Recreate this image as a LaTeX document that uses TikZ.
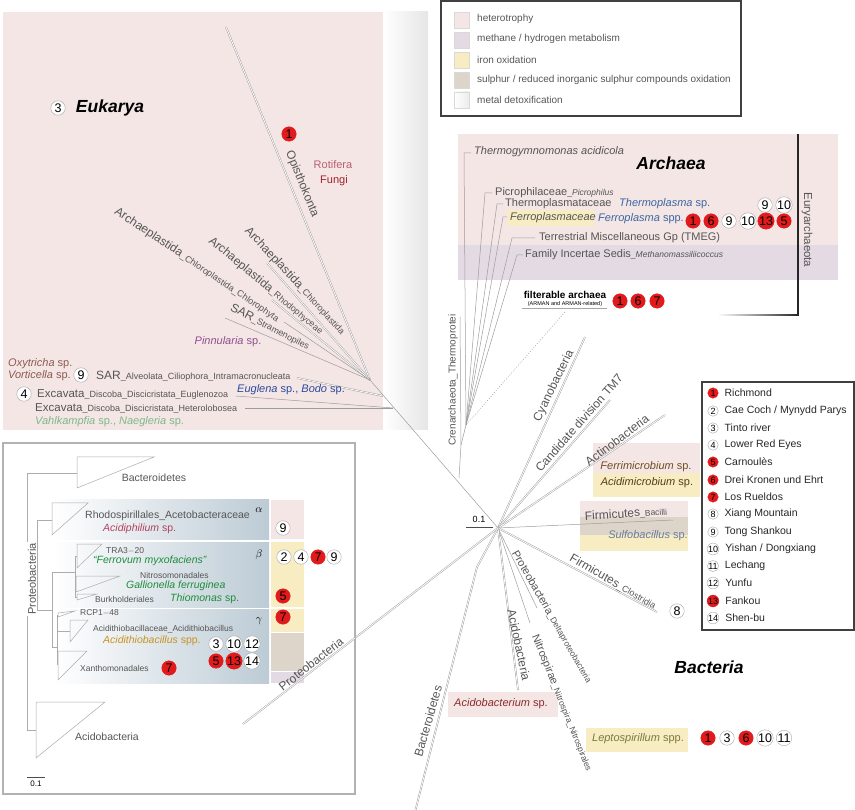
\documentclass[tikz,border=0pt]{standalone}
\usepackage{fontspec}
\setmainfont{Liberation Sans}
\usepackage{xcolor}
\usetikzlibrary{calc}

\definecolor{hetero}{HTML}{F5E6E6}
\definecolor{methane}{HTML}{E4DAE4}
\definecolor{iron}{HTML}{F7ECC2}
\definecolor{sulphur}{HTML}{DDD5CA}
\definecolor{sitered}{HTML}{E31A1C}
\definecolor{branch}{HTML}{9C9C9C}
\definecolor{labgray}{HTML}{555555}
\definecolor{taxblue}{HTML}{3A66A0}
\definecolor{darkblue}{HTML}{2A4A9C}
\definecolor{taxbrown}{HTML}{8C5A4E}
\definecolor{taxgreen}{HTML}{1E8C3C}
\definecolor{lightgreen}{HTML}{7DB88A}
\definecolor{taxpurple}{HTML}{8E4E8E}
\definecolor{rotred}{HTML}{B8606E}
\definecolor{fungred}{HTML}{A0222A}
\definecolor{taxgold}{HTML}{C8921E}
\definecolor{ochre}{HTML}{6E4E1E}
\definecolor{olive}{HTML}{7A7A3E}
\definecolor{slate}{HTML}{6A7C9E}
\definecolor{boxblue}{HTML}{BCCBD5}
\definecolor{pinkred}{HTML}{B2405C}
\definecolor{acidored}{HTML}{8C2A2A}

\newcommand{\fs}[1]{\fontsize{#1}{#1}\selectfont}
\newcommand{\subt}[1]{{\fs{9}\_#1}}
\newcommand{\subs}[1]{{\fs{8.5}\_#1}}

\begin{document}
\begin{tikzpicture}[x=1pt, y=-1pt, >=latex,
    br/.style={draw=branch, line width=0.5pt},
    dbr/.style={draw=branch, double=white, double distance=0.8pt, line width=0.45pt},
    lab/.style={inner sep=0pt, text=labgray, font=\fs{12}},
    site/.style={circle, draw=gray!70, fill=white, inner sep=0pt, minimum size=14.5pt, font=\fs{12.5}},
    rsite/.style={site, draw=sitered, fill=sitered},
    lsite/.style={site, minimum size=10.5pt, font=\fs{9}},
    rlsite/.style={lsite, draw=sitered, fill=sitered},
    clade/.style={draw=gray!65, line width=0.5pt},
    swatch/.style={draw=gray!30, line width=0.4pt}]
    \useasboundingbox (0,0) rectangle (855,810);

    % Backgrounds
    \fill[hetero] (3,12) rectangle (383,430);
    \shade[left color=white, right color=gray!20] (383,12) rectangle (428,430);
    \fill[hetero] (458,134) rectangle (838,245);
    \fill[methane] (458,245) rectangle (838,280);
    \fill[iron] (507,210) rectangle (594,226);
    \fill[hetero] (593,443) rectangle (700,473);
    \fill[iron] (593,473) rectangle (700,497);
    \fill[hetero] (580,501) rectangle (688,517);
    \fill[sulphur] (580,517) rectangle (688,535);
    \fill[iron] (580,535) rectangle (688,551);
    \fill[hetero] (448,692) rectangle (558,717);
    \fill[iron] (586,728) rectangle (688,752);

    % Legend (metabolism)
    \draw[black!75, line width=1.2pt] (441,1) rectangle (741,116);
    \filldraw[swatch, fill=hetero] (454,12) rectangle (469,28);
    \filldraw[swatch, fill=methane] (454,32) rectangle (469,48);
    \filldraw[swatch, fill=iron] (454,52) rectangle (469,68);
    \filldraw[swatch, fill=sulphur] (454,72) rectangle (469,88);
    \shade[left color=white, right color=gray!15] (454,92) rectangle (469,108);
    \draw[swatch] (454,92) rectangle (469,108);
    \node[lab, anchor=west, font=\fs{10}] (l1) at (477,19) {heterotrophy};
    \node[lab, anchor=west, font=\fs{10}] (l2) at (477,39) {methane / hydrogen metabolism};
    \node[lab, anchor=west, font=\fs{10}] (l3) at (477,60) {iron oxidation};
    \node[lab, anchor=west, font=\fs{10}] (l4) at (477,80) {sulphur / reduced inorganic sulphur compounds oxidation};
    \node[lab, anchor=west, font=\fs{10}] (l5) at (477,100) {metal detoxification};

    % Tree coordinates
    \coordinate (C) at (498,528);
    \coordinate (AE) at (459,478);
    \coordinate (E0) at (370,380);
    \coordinate (E1) at (383,396);
    \coordinate (E2) at (393,408);
    \coordinate (AR0) at (461,445);
    \coordinate (AR1) at (466,425);

    % Eukarya branches
    \draw[br] (C) -- (E0);
    \draw[dbr] (226,27) -- (E0);
    \draw[dbr] (267,263) -- (E0);
    \draw[dbr] (272,300) -- (E0);
    \draw[br] (284,322) -- (E0);
    \draw[br] (225,318) -- (E0);
    \draw[dbr] (297,378) -- (E1);
    \draw[br] (236,396) -- (E2);
    \draw[br] (245,408) -- (E2);

    % Eukarya text
    \node[site] (e3) at (58,108) {3};
    \node[inner sep=0pt, font=\fs{17.5}\bfseries\itshape] (euk) at (110,108) {Eukarya};
    \node[rsite] (e1) at (289,134) {1};
    \node[lab, rotate=-67.8] (opis) at (302,184) {Opisthokonta};
    \node[lab, text=rotred, font=\fs{11}] (rot) at (333,165) {Rotifera};
    \node[lab, text=fungred, font=\fs{11}] (fun) at (334,181) {Fungi};
    \node[lab, rotate=-47] (chlo) at (295,281) {Archaeplastida\subt{Chloroplastida}};
    \node[lab, rotate=-39.5] (rhod) at (266,286) {Archaeplastida\subt{Rhodophyceae}};
    \node[lab, rotate=-33.7] (chph) at (197,265) {Archaeplastida\subt{Chloroplastida\_Chlorophyta}};
    \node[lab, rotate=-27] (stra) at (270,327) {SAR\subt{Stramenopiles}};
    \node[lab, text=taxpurple, font=\fs{11}] (pinn) at (228,342) {\textit{Pinnularia} sp.};
    \node[lab, anchor=west, text=taxbrown, font=\fs{11}] (oxy) at (8,364) {\textit{Oxytricha} sp.};
    \node[lab, anchor=west, text=taxbrown, font=\fs{11}] (vort) at (8,376) {\textit{Vorticella} sp.};
    \node[site] (e9) at (81,375) {9};
    \node[lab, anchor=west] (alv) at (96,376) {SAR\subt{Alveolata\_Ciliophora\_Intramacronucleata}};
    \node[site] (e4) at (24,394) {4};
    \node[lab, anchor=west, font=\fs{11.5}] (eug) at (37,394) {Excavata\subt{Discoba\_Discicristata\_Euglenozoa}};
    \node[lab, anchor=west, text=darkblue, font=\fs{11}] (bodo) at (237,390) {\textit{Euglena} sp., \textit{Bodo} sp.};
    \node[lab, anchor=west, font=\fs{11.5}] (het) at (35,408) {Excavata\subt{Discoba\_Discicristata\_Heterolobosea}};
    \node[lab, anchor=west, text=lightgreen, font=\fs{11}] (vahl) at (35,422) {\textit{Vahlkampfia} sp., \textit{Naegleria} sp.};

    % Archaea branches
    \draw[br] (AE) -- (AR0) -- (AR1);
    \draw[br] (471,153) -- (464,153) -- (AR1);
    \draw[br] (492,193) -- (485,193) -- (AR1);
    \draw[br] (503,204) -- (497,204) -- (AR1);
    \draw[br] (507,217) -- (503,217) -- (AR1);
    \draw[br] (535,238) -- (512,238) -- (AR1);
    \draw[br] (523,255) -- (517,255) -- (AR1);
    \draw[br] (460,317) -- (AR0);
    \draw[branch, dash pattern=on 1pt off 1.6pt, line width=0.5pt] (565,312) -- (AR1);

    % Archaea text
    \node[inner sep=0pt, font=\fs{17.5}\bfseries\itshape] (arch) at (671,163) {Archaea};
    \node[lab, anchor=west, font=\fs{11}\itshape] (thg) at (474,152) {Thermogymnomonas acidicola};
    \node[lab, anchor=west, font=\fs{11}] (pic) at (495,193) {Picrophilaceae\subs{\textit{Picrophilus}}};
    \node[lab, anchor=west, font=\fs{11}] (thp) at (505,204) {Thermoplasmataceae};
    \node[lab, anchor=west, text=taxblue, font=\fs{11}] (thps) at (619,204) {\textit{Thermoplasma} sp.};
    \node[lab, anchor=west, font=\fs{11}\itshape] (fer) at (510,218) {Ferroplasmaceae};
    \node[lab, anchor=west, text=taxblue, font=\fs{11}] (fers) at (598,219) {\textit{Ferroplasma} spp.};
    \node[lab, anchor=west, font=\fs{11}] (tmeg) at (539,238) {Terrestrial Miscellaneous Gp (TMEG)};
    \node[lab, anchor=west, font=\fs{11}] (fis) at (525,255) {Family Incertae Sedis\subs{\textit{Methanomassiliicoccus}}};
    \node[site] (a9) at (765,205) {9};
    \node[site] (a10) at (784,205) {10};
    \node[rsite] (b1) at (693,221) {1};
    \node[rsite] (b6) at (711,221) {6};
    \node[site] (b9) at (729,221) {9};
    \node[site] (b10) at (748,221) {10};
    \node[rsite] (b13) at (766,221) {13};
    \node[rsite] (b5) at (784,221) {5};
    \node[lab, text=black, font=\fs{10}\bfseries] (arman) at (565,295) {filterable archaea};
    \node[lab, text=black, font=\fs{5.5}] (armsub) at (565,304) {(ARMAN and ARMAN-related)};
    \draw[gray!70, line width=0.4pt] (522,308) -- (607,308);
    \node[rsite] (f1) at (620,301) {1};
    \node[rsite] (f6) at (638,301) {6};
    \node[rsite] (f7) at (657,301) {7};
    \node[lab, rotate=-90, font=\fs{11.5}] (eury) at (807,230) {Euryarchaeota};
    \node[lab, rotate=90, font=\fs{10}] (cren) at (453,380) {Crenarchaeota\_Thermoprotei};

    % Euryarchaeota bracket
    \draw[black!85, line width=1.2pt] (798,134) -- (798,315.6);
    \shade[left color=white, right color=black!85] (717,314.4) rectangle (798,315.6);

    % Bacteria branches
    \draw[dbr] (585,337) -- (C);
    \draw[dbr] (610,400) -- (C);
    \draw[dbr] (665,415) -- (C);
    \draw[br] (673,520) -- (C);
    \draw[dbr] (657,612) -- (C);
    \draw[br] (537,608) -- (C);
    \draw[br] (530,623) -- (C);
    \draw[dbr] (518,690) -- (C);
    \draw[dbr] (C) -- (477,567) -- (415,812);
    \draw[dbr] (243,724) -- (C);

    % Scale bar
    \draw[black!70, line width=0.6pt] (466,527) -- (493,527);
    \node[lab, text=black, font=\fs{9}] (sc) at (479,519) {0.1};

    % Bacteria text
    \node[inner sep=0pt, font=\fs{17.5}\bfseries\itshape] (bact) at (709,667) {Bacteria};
    \node[lab, rotate=64] (cyan) at (554,386) {Cyanobacteria};
    \node[lab, rotate=48.6] (tm7) at (579,423) {Candidate division TM7};
    \node[lab, rotate=37] (actn) at (617,440) {Actinobacteria};
    \node[lab, text=ochre, font=\fs{11}] (ferm) at (646,467) {\textit{Ferrimicrobium} sp.};
    \node[lab, text=ochre!80!black, font=\fs{11}] (acim) at (647,483) {\textit{Acidimicrobium} sp.};
    \node[lab, rotate=3.5] (baci) at (626,514) {Firmicutes\subs{Bacilli}};
    \node[lab, text=slate, font=\fs{11}] (sulf) at (648,536) {\textit{Sulfobacillus} sp.};
    \node[lab, rotate=-30] (clos) at (613,582) {Firmicutes\subt{Clostridia}};
    \node[site] (s8) at (677,611) {8};
    \node[lab, rotate=-60, font=\fs{11}] (delt) at (552,617) {Proteobacteria\subs{Deltaproteobacteria}};
    \node[lab, rotate=-68, font=\fs{11}] (nitr) at (562,703) {Nitrospirae\subs{Nitrospira\_Nitrospirales}};
    \node[lab, rotate=-78] (acid) at (519,645) {Acidobacteria};
    \node[lab, text=acidored, font=\fs{11}] (acbm) at (501,704) {\textit{Acidobacterium} sp.};
    \node[lab, text=olive, font=\fs{11}] (lept) at (638,739) {\textit{Leptospirillum} spp.};
    \node[rsite] (p1) at (708,738) {1};
    \node[site] (p3) at (727,738) {3};
    \node[rsite] (p6) at (746,738) {6};
    \node[site] (p10) at (765,738) {10};
    \node[site] (p11) at (784,738) {11};
    \node[lab, rotate=74] (bacd) at (428,721) {Bacteroidetes};

    % Legend (sites)
    \draw[black!75, line width=1.2pt] (702,382) rectangle (854,630);
    \node[rlsite] (k1) at (713,393) {1};
    \node[lab, anchor=west, text=black!85, font=\fs{10.5}] at (k1.east) [xshift=6pt] {Richmond};
    \node[lsite] (k2) at (713,411) {2};
    \node[lab, anchor=west, text=black!85, font=\fs{10.5}] at (k2.east) [xshift=6pt] {Cae Coch / Mynydd Parys};
    \node[lsite] (k3) at (713,428) {3};
    \node[lab, anchor=west, text=black!85, font=\fs{10.5}] at (k3.east) [xshift=6pt] {Tinto river};
    \node[lsite] (k4) at (713,445) {4};
    \node[lab, anchor=west, text=black!85, font=\fs{10.5}] at (k4.east) [xshift=6pt] {Lower Red Eyes};
    \node[rlsite] (k5) at (713,462) {5};
    \node[lab, anchor=west, text=black!85, font=\fs{10.5}] at (k5.east) [xshift=6pt] {Carnoulès};
    \node[rlsite] (k6) at (713,480) {6};
    \node[lab, anchor=west, text=black!85, font=\fs{10.5}] at (k6.east) [xshift=6pt] {Drei Kronen und Ehrt};
    \node[rlsite] (k7) at (713,497) {7};
    \node[lab, anchor=west, text=black!85, font=\fs{10.5}] at (k7.east) [xshift=6pt] {Los Rueldos};
    \node[lsite] (k8) at (713,514) {8};
    \node[lab, anchor=west, text=black!85, font=\fs{10.5}] at (k8.east) [xshift=6pt] {Xiang Mountain};
    \node[lsite] (k9) at (713,532) {9};
    \node[lab, anchor=west, text=black!85, font=\fs{10.5}] at (k9.east) [xshift=6pt] {Tong Shankou};
    \node[lsite] (k10) at (713,549) {10};
    \node[lab, anchor=west, text=black!85, font=\fs{10.5}] at (k10.east) [xshift=6pt] {Yishan / Dongxiang};
    \node[lsite] (k11) at (713,566) {11};
    \node[lab, anchor=west, text=black!85, font=\fs{10.5}] at (k11.east) [xshift=6pt] {Lechang};
    \node[lsite] (k12) at (713,583) {12};
    \node[lab, anchor=west, text=black!85, font=\fs{10.5}] at (k12.east) [xshift=6pt] {Yunfu};
    \node[rlsite] (k13) at (713,601) {13};
    \node[lab, anchor=west, text=black!85, font=\fs{10.5}] at (k13.east) [xshift=6pt] {Fankou};
    \node[lsite] (k14) at (713,618) {14};
    \node[lab, anchor=west, text=black!85, font=\fs{10.5}] at (k14.east) [xshift=6pt] {Shen-bu};

    % Proteobacteria inset
    \fill[white] (3,443) rectangle (355,794);
    \shade[left color=white, right color=boxblue] (52,500) rectangle (269,539);
    \shade[left color=white, right color=boxblue] (52,542) rectangle (269,607);
    \shade[left color=white, right color=boxblue] (55,609) rectangle (269,683);
    \fill[hetero] (271,500) rectangle (304,539);
    \fill[iron] (271,542) rectangle (304,607);
    \fill[iron] (271,609) rectangle (304,632);
    \fill[sulphur] (271,633) rectangle (304,671);
    \fill[methane] (271,672) rectangle (304,683);
    \draw[gray!60, line width=1.2pt] (3,443) rectangle (355,794);
    % inset tree
    \draw[clade] (27,473) -- (27,730);
    \draw[clade] (27,473) -- (77,473);
    \draw[clade] (77,457) -- (154,457) -- (77,488) -- cycle;
    \draw[clade] (27,730) -- (36,730);
    \draw[clade] (36,702) -- (105,702) -- (36,758) -- cycle;
    \draw[clade] (27,565) -- (37,565);
    \draw[clade] (37,520) -- (37,610);
    \draw[clade] (37,520) -- (52,520);
    \draw[clade] (52,503) -- (88,503) -- (52,535) -- cycle;
    \draw[clade] (37,610) -- (52,610);
    \draw[clade] (52,572) -- (52,647);
    \draw[clade] (52,572) -- (75,572);
    \draw[clade] (75,556) -- (75,597);
    \draw[clade] (75,556) -- (77,556);
    \draw[clade] (77,544) -- (102,544) -- (77,568) -- cycle;
    \draw[clade] (75,584) -- (76,584);
    \draw[clade] (76,576) -- (120,576) -- (76,592) -- cycle;
    \draw[clade] (75,597) -- (77,597);
    \draw[clade] (77,594) -- (97,594) -- (77,600) -- cycle;
    \draw[clade] (52,647) -- (57,647);
    \draw[clade] (57,615) -- (57,665);
    \draw[clade] (58,613) -- (75,611) -- (58,617) -- cycle;
    \draw[clade] (57,631) -- (70,631);
    \draw[clade] (70,620) -- (88,620) -- (70,642) -- cycle;
    \draw[clade] (58,651) -- (87,651) -- (58,680) -- cycle;
    \draw[black!70, line width=0.6pt] (27,777) -- (45,777);
    \node[lab, text=black, font=\fs{8}] (isc) at (36,784) {0.1};
    % inset text
    \node[lab, rotate=90, fill=white, inner sep=1pt, font=\fs{11}] (prot) at (32,579) {Proteobacteria};
    \node[lab, font=\fs{10.5}] (bcti) at (154,478) {Bacteroidetes};
    \node[lab, font=\fs{10.5}] (acdi) at (107,737) {Acidobacteria};
    \node[lab, text=black, font=\fs{11}] (alpha) at (259,510) {$\alpha$};
    \node[lab, text=black, font=\fs{11}] (beta) at (259,555) {$\beta$};
    \node[lab, text=black, font=\fs{11}] (gamma) at (259,621) {$\gamma$};
    \node[lab, anchor=west, font=\fs{10.5}] (rhos) at (85,516) {Rhodospirillales\_Acetobacteraceae};
    \node[lab, anchor=west, text=pinkred, font=\fs{10.5}] (acph) at (103,529) {\textit{Acidiphilium} sp.};
    \node[lab, anchor=west, font=\fs{8.5}] (tra) at (106,551) {TRA3$-$20};
    \node[lab, anchor=west, text=taxgreen, font=\fs{10.5}\itshape] (ferr) at (93,561) {``Ferrovum myxofaciens''};
    \node[lab, anchor=west, font=\fs{8.5}] (nitro) at (140,575) {Nitrosomonadales};
    \node[lab, anchor=west, text=taxgreen, font=\fs{10.5}\itshape] (gall) at (126,586) {Gallionella ferruginea};
    \node[lab, anchor=west, font=\fs{8.5}] (burk) at (95,599) {Burkholderiales};
    \node[lab, anchor=west, text=taxgreen, font=\fs{10.5}] (thio) at (170,599) {\textit{Thiomonas} sp.};
    \node[lab, anchor=west, font=\fs{8.5}] (rcp) at (80,613) {RCP1$-$48};
    \node[lab, anchor=west, font=\fs{8.5}] (acth) at (93,629) {Acidithiobacillaceae\_Acidithiobacillus};
    \node[lab, anchor=west, text=taxgold, font=\fs{10.5}] (acts) at (103,641) {\textit{Acidithiobacillus} spp.};
    \node[lab, anchor=west, font=\fs{8.5}] (xant) at (80,668) {Xanthomonadales};
    \node[site] (i9) at (283,528) {9};
    \node[site] (j2) at (284,557) {2};
    \node[site] (j4) at (301,557) {4};
    \node[rsite] (j7) at (318,557) {7};
    \node[site] (j9) at (334,557) {9};
    \node[rsite] (j5) at (283,596) {5};
    \node[rsite] (g7) at (283,617) {7};
    \node[site] (g3) at (216,644) {3};
    \node[site] (g10) at (234,644) {10};
    \node[site] (g12) at (252,644) {12};
    \node[rsite] (g5) at (216,661) {5};
    \node[rsite] (g13) at (234,661) {13};
    \node[site] (g14) at (252,661) {14};
    \node[rsite] (x7) at (169,668) {7};

    % Proteobacteria branch over inset
    \draw[dbr] (243,724) -- (355,638);
    \node[lab, rotate=38] (prtm) at (311,664) {Proteobacteria};
\end{tikzpicture}
\end{document}
